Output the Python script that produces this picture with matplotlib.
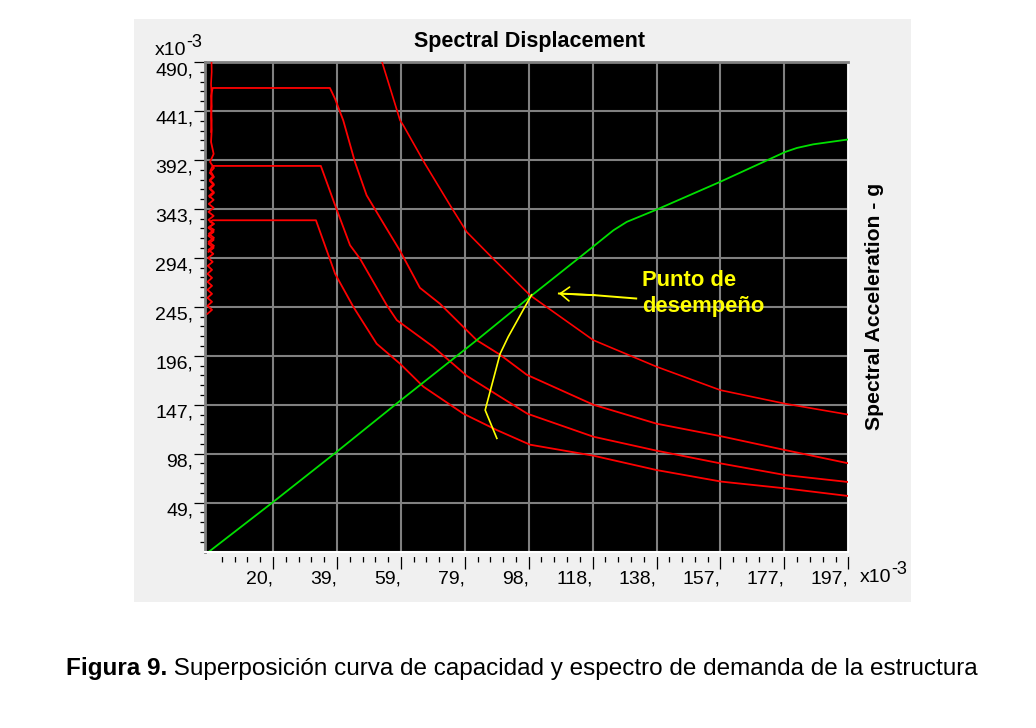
import numpy as np
import matplotlib
matplotlib.use('Agg')
import matplotlib.pyplot as plt
from matplotlib.patches import Rectangle

plt.rcParams['font.family'] = ['Liberation Sans', 'DejaVu Sans']

# axis ticks (both axes in units of 1e-3)
x_ticks = [19.68, 39.36, 59.04, 78.72, 98.4, 118.08, 137.76, 157.44, 177.12, 196.8]
x_labels = ['20,', '39,', '59,', '79,', '98,', '118,', '138,', '157,', '177,', '197,']
y_ticks = [49, 98, 147, 196, 245, 294, 343, 392, 441, 490]
y_labels = ['49,', '98,', '147,', '196,', '245,', '294,', '343,', '392,', '441,', '490,']

# capacity curve (green)
cap_x = [0, 19.7, 38.8, 57.8, 82.4, 98.8, 114.3, 124.5, 128.6, 137.8, 157.3, 177.4, 181, 186, 197]
cap_y = [0, 49.6, 98.6, 148.3, 211.6, 255, 295, 321.6, 330, 342.3, 370, 400, 404, 407.6, 412.6]

# demand spectra (red): jagged rising branch near zero, plateau, descending branch
dA_x = [0.2, 1.5, 0.2, 1.5, 0.2, 1.5, 0.2, 1.5, 0.3, 1.4, 0.6, 0.8, 0.6, 0.8, 0.6, 1.1,
        37.2, 38.8, 41.3, 44.9, 48.5, 54.7, 58.8, 64.9, 71.1,
        82.4, 89.6, 97.8, 118.3, 137.8, 157.4, 177.4, 196.9]
dA_y = [355, 359, 363, 367, 371, 375, 379, 384, 390, 398, 410, 422, 434, 446, 456, 464,
        464, 453, 431.6, 390, 356.6, 323, 301, 264, 248,
        211.6, 197, 177, 147, 128, 115.6, 101.6, 88.3]
dB_x = [-0.2, 1.4, -0.2, 1.4, -0.2, 1.4, -0.2, 1.4, -0.2, 1.4, -0.2, 1.4, -0.1, 1.4, 0.0, 1.4,
        0.1, 1.4, 0.2, 1.3, 0.4, 1.1,
        34.4, 38.8, 43.4, 46.5, 54.7, 57.8, 69, 79.3, 89.6,
        98, 118.3, 137.8, 157.4, 177.4, 196.9]
dB_y = [300, 304, 308, 312, 316, 320, 324, 328, 332, 336, 340, 344, 348, 352, 356, 360,
        364, 368, 372, 376, 381, 386,
        386, 346.6, 306.6, 293, 246.6, 231.6, 205, 176, 155,
        138, 115, 101, 88.3, 76.6, 69.6]
dC_x = [-0.5, 0.9, -0.5, 0.9, -0.5, 0.9, -0.5, 0.9, -0.5, 0.9, -0.5, 0.9, -0.4, 1.1, -0.3, 1.3,
        -0.2, 1.5, -0.2, 1.5, -0.1, 1.5, 0.0, 1.5, 0.3, 1.1,
        32.9, 38.8, 44.4, 51.6, 58.8, 66, 78.3, 88.6,
        98.8, 118.3, 137.8, 157.8, 177.4, 196.9]
dC_y = [238, 242, 246, 250, 254, 258, 262, 266, 270, 274, 278, 282, 286, 290, 294, 298,
        302, 306, 310, 314, 318, 322, 325, 328, 330, 331.6,
        331.6, 278, 245, 208, 188, 165, 138, 121.6,
        107, 96, 81.6, 70, 63.3, 55.6]
dD_rise_x = [0.6, 0.8, 0.6, 0.8, 0.6, 0.8, 0.7]
dD_rise_y = [420, 432, 444, 456, 468, 480, 500]
dD_x = [52.3, 58.8, 59.8, 66.5, 74.2, 79.3, 87.5, 98.8, 118.3, 137.8, 157.4, 177.4, 197]
dD_y = [500, 431.6, 426.6, 388, 346.6, 320, 293, 256.6, 211.6, 185, 161.6, 148, 137]

# performance point trace (yellow)
perf_x = [99.3, 92.1, 89.6, 85, 88.6]
perf_y = [257, 215, 198, 141.6, 113.3]
arrow_x = [131.5, 127.6, 118.8, 107.7]
arrow_y = [253.3, 254.3, 256.6, 258.3]

panel_bg = '#f0f0f0'
grid_col = '#808080'

fig = plt.figure(figsize=(10.36, 7.28), dpi=100)
fig.patch.set_facecolor('white')
fig.patches.append(Rectangle((134 / 1036, 1 - 602 / 728), 777 / 1036, 583 / 728,
                             transform=fig.transFigure, facecolor=panel_bg,
                             edgecolor='none', zorder=-10))

ax = fig.add_axes([205 / 1036, 1 - 551.6 / 728, 643.3 / 1036, 489.6 / 728])
ax.set_zorder(2)
ax.set_facecolor('black')
ax.set_xlim(-1.26, 196.8)
ax.set_ylim(0, 490)

# spines first: moving a spine resets the ticks
ax.spines['left'].set_color(grid_col)
ax.spines['left'].set_linewidth(2)
ax.spines['top'].set_color(grid_col)
ax.spines['top'].set_linewidth(2)
ax.spines['right'].set_color('white')
ax.spines['right'].set_linewidth(1.2)
ax.spines['bottom'].set_position(('outward', 3))
ax.spines['bottom'].set_color(panel_bg)
ax.axhline(0, color='white', lw=1.5, clip_on=False, zorder=5)

ax.set_xticks(x_ticks)
ax.set_xticklabels(x_labels)
ax.set_yticks(y_ticks)
ax.set_yticklabels(y_labels)
ax.set_xticks(np.arange(1, 51) * 3.936, minor=True)
ax.set_yticks(np.arange(1, 50) * 9.8, minor=True)

ax.grid(True, which='major', color=grid_col, lw=1.5)
ax.set_axisbelow(True)

ax.tick_params(axis='x', which='major', length=9, width=0.9, pad=1.5, labelsize=14, direction='out')
ax.tick_params(axis='x', which='minor', length=4.3, width=0.9, direction='out')
ax.tick_params(axis='y', which='major', length=8, width=0.9, pad=0.5, labelsize=14, direction='out')
ax.tick_params(axis='y', which='minor', length=3.6, width=0.9, direction='out')
plt.setp(ax.get_xticklabels(), ha='right')
plt.setp(ax.get_yticklabels(), va='top')

red = '#ff0000'
ax.plot(dA_x, dA_y, color=red, lw=1.3, zorder=3)
ax.plot(dB_x, dB_y, color=red, lw=1.3, zorder=3)
ax.plot(dC_x, dC_y, color=red, lw=1.3, zorder=3)
ax.plot(dD_rise_x, dD_rise_y, color=red, lw=1.2, zorder=3)
ax.plot(dD_x, dD_y, color=red, lw=1.2, zorder=3)
ax.plot(cap_x, cap_y, color='#00e000', lw=1.3, zorder=4)
ax.plot(perf_x, perf_y, color='#ffff00', lw=1.2, zorder=4)

ax.plot(arrow_x, arrow_y, color='#ffff00', lw=1.4, zorder=4)
ax.annotate('', xy=(arrow_x[-1], arrow_y[-1]), xytext=(arrow_x[-2], arrow_y[-2]),
            arrowprops=dict(arrowstyle='->,head_length=0.65,head_width=0.5',
                            color='#ffff00', lw=1.2, shrinkA=0, shrinkB=0), zorder=4)
ax.text(133.3, 282, 'Punto de\ndesempeño', color='#ffff00', fontsize=15.8,
        fontweight='bold', ha='left', va='top', linespacing=1.32, zorder=6)

fig.text(529.5 / 1036, 1 - 46.7 / 728, 'Spectral Displacement', fontsize=15.5,
         fontweight='bold', ha='center', va='baseline')
fig.text(874 / 1036, 1 - 306.5 / 728, 'Spectral Acceleration - g', fontsize=15.2,
         fontweight='bold', rotation=90, ha='center', va='center')


def exp_label(x_px, y_px):
    base = fig.text(x_px / 1036, 1 - y_px / 728, 'x10', fontsize=14,
                    ha='left', va='baseline')
    fig.text(x_px / 1036, 1 - y_px / 728, '-3', fontsize=13, ha='left', va='baseline')
    return base


exp_bases = [exp_label(155, 55), exp_label(860, 581.7)]

cap = fig.text(66 / 1036, 1 - 675 / 728, 'Figura 9.', fontsize=17.5, fontweight='bold',
               ha='left', va='baseline')
cap_rest = fig.text(0, 1 - 675 / 728,
                    ' Superposición curva de capacidad y espectro de demanda de la estructura',
                    fontsize=17.5, ha='left', va='baseline')

# put the pieces next to each other once the text sizes are known
fig.canvas.draw()
W, H = fig.bbox.width, fig.bbox.height
bb = cap.get_window_extent()
cap_rest.set_position((bb.x1 / W, 1 - 675 / 728))
for base in exp_bases:
    idx = fig.texts.index(base)
    sup = fig.texts[idx + 1]
    b = base.get_window_extent()
    x0, y0 = base.get_position()
    sup.set_position((b.x1 / W, y0 + 8 / H))

fig.savefig('out.png', dpi=100, facecolor='white')
